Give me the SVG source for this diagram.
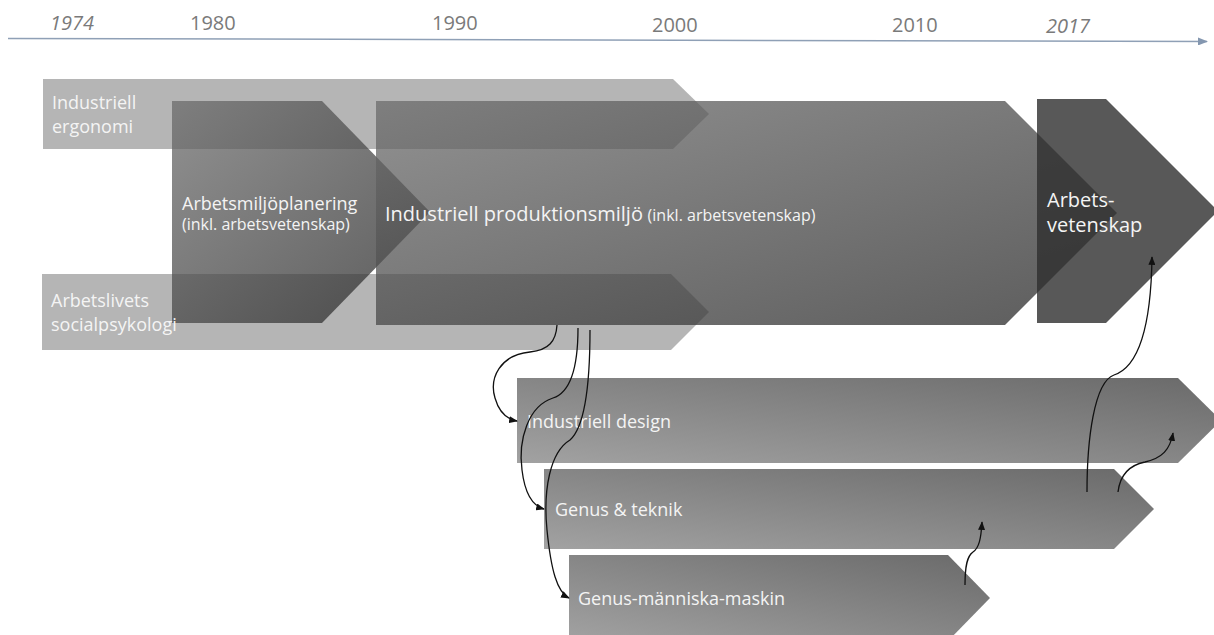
<svg xmlns="http://www.w3.org/2000/svg" width="1214" height="635" viewBox="0 0 1214 635">
  <defs>
    <style>
      .year { font-family: "Open Sans", "Liberation Sans", sans-serif; font-size: 20px; fill: #7a7a7a; }
      .year.it { font-style: italic; }
      .lbl { font-family: "Open Sans", "Liberation Sans", sans-serif; font-size: 18px; fill: #f4f4f4; }
      .sm { font-size: 16px; }
      .big { font-size: 20px; }
      .band { fill: #b5b5b5; }
      .upper { fill: url(#gUpper); fill-opacity: 0.75; }
      .lower { fill: url(#gLower); }
      .link { fill: none; stroke: #111; stroke-width: 1.3; marker-end: url(#head); }
    </style>
    <linearGradient id="gUpper" x1="0" y1="0" x2="1" y2="1">
      <stop offset="0" stop-color="#6c6c6c"/>
      <stop offset="1" stop-color="#262626"/>
    </linearGradient>
    <linearGradient id="gLower" x1="0" y1="1" x2="1" y2="0">
      <stop offset="0" stop-color="#a2a2a2"/>
      <stop offset="1" stop-color="#6a6a6a"/>
    </linearGradient>
    <marker id="head" viewBox="0 0 10 8" refX="9" refY="4" markerWidth="9" markerHeight="7" markerUnits="userSpaceOnUse" orient="auto">
      <path d="M0,0 L10,4 L0,8 Z" fill="#111"/>
    </marker>
    <marker id="axisHead" viewBox="0 0 10 8" refX="9" refY="4" markerWidth="10" markerHeight="8" markerUnits="userSpaceOnUse" orient="auto">
      <path d="M0,0 L10,4 L0,8 Z" fill="#8497b0"/>
    </marker>
  </defs>

  <!-- time axis -->
  <g id="axis">
    <line x1="8" y1="38.5" x2="1207" y2="41.5" stroke="#8fa0b6" stroke-width="1.5" marker-end="url(#axisHead)"/>
    <text class="year it" x="50" y="30">1974</text>
    <text class="year" x="190" y="30">1980</text>
    <text class="year" x="432" y="30">1990</text>
    <text class="year" x="652" y="32">2000</text>
    <text class="year" x="892" y="32">2010</text>
    <text class="year it" x="1046" y="33">2017</text>
  </g>

  <!-- background bands -->
  <g id="industriell-ergonomi">
    <polygon class="band" points="43,79 673,79 709,114 673,149 43,149"/>
  </g>
  <g id="arbetslivets-socialpsykologi">
    <polygon class="band" points="42,274 671,274 709,312 671,350 42,350"/>
  </g>

  <!-- main chevrons -->
  <g id="arbetsmiljoplanering">
    <polygon class="upper" points="172,101 322,101 430,212 322,323 172,323"/>
  </g>
  <g id="industriell-produktionsmiljo">
    <polygon class="upper" points="376,101 1005,101 1117,213 1005,325 376,325"/>
  </g>
  <g id="arbetsvetenskap">
    <polygon fill="#2e2e2e" fill-opacity="0.8" points="1037,99 1106,99 1218,211 1106,323 1037,323"/>
  </g>

  <!-- branch chevrons -->
  <g id="industriell-design">
    <polygon class="lower" points="517,378 1178,378 1221,420.5 1178,463 517,463"/>
  </g>
  <g id="genus-teknik">
    <polygon class="lower" points="544,469 1114,469 1154,509 1114,549 544,549"/>
  </g>
  <g id="genus-manniska-maskin">
    <polygon class="lower" points="569,555 948,555 990,598 948,641 569,641"/>
  </g>

  <!-- labels -->
  <g id="labels">
    <text class="lbl" x="52" y="109">Industriell</text>
    <text class="lbl" x="52" y="133">ergonomi</text>
    <text class="lbl" x="51" y="307">Arbetslivets</text>
    <text class="lbl" x="51" y="331">socialpsykologi</text>
    <text class="lbl" x="182" y="210">Arbetsmiljöplanering</text>
    <text class="lbl sm" x="182" y="230">(inkl. arbetsvetenskap)</text>
    <text class="lbl" x="385" y="221"><tspan class="big">Industriell produktionsmiljö</tspan> <tspan class="sm">(inkl. arbetsvetenskap)</tspan></text>
    <text class="lbl big" x="1047" y="207">Arbets-</text>
    <text class="lbl big" x="1047" y="232">vetenskap</text>
    <text class="lbl" x="527" y="428">Industriell design</text>
    <text class="lbl" x="555" y="516">Genus &amp; teknik</text>
    <text class="lbl" x="578" y="605">Genus-människa-maskin</text>
  </g>

  <!-- connectors -->
  <g id="connectors">
    <path class="link" d="M557,325 C556,341 549,350 530,352 C500,355 489,378 495,398 C499,412 506,419 517,421"/>
    <path class="link" d="M578,328 C578,362 572,392 553,398 C528,406 518,440 522,470 C525,495 533,506 544,509"/>
    <path class="link" d="M590,330 C590,372 587,425 570,440 C550,452 543,490 547,530 C551,570 557,592 569,598"/>
    <path class="link" d="M965,585 C965,566 967,556 973,552 C979,548 981,539 982,522"/>
    <path class="link" d="M1087,492 C1087,440 1094,382 1114,375 C1138,367 1151,330 1152,257"/>
    <path class="link" d="M1118,492 C1120,475 1130,465 1145,462 C1162,458 1170,450 1173,433"/>
  </g>
</svg>
